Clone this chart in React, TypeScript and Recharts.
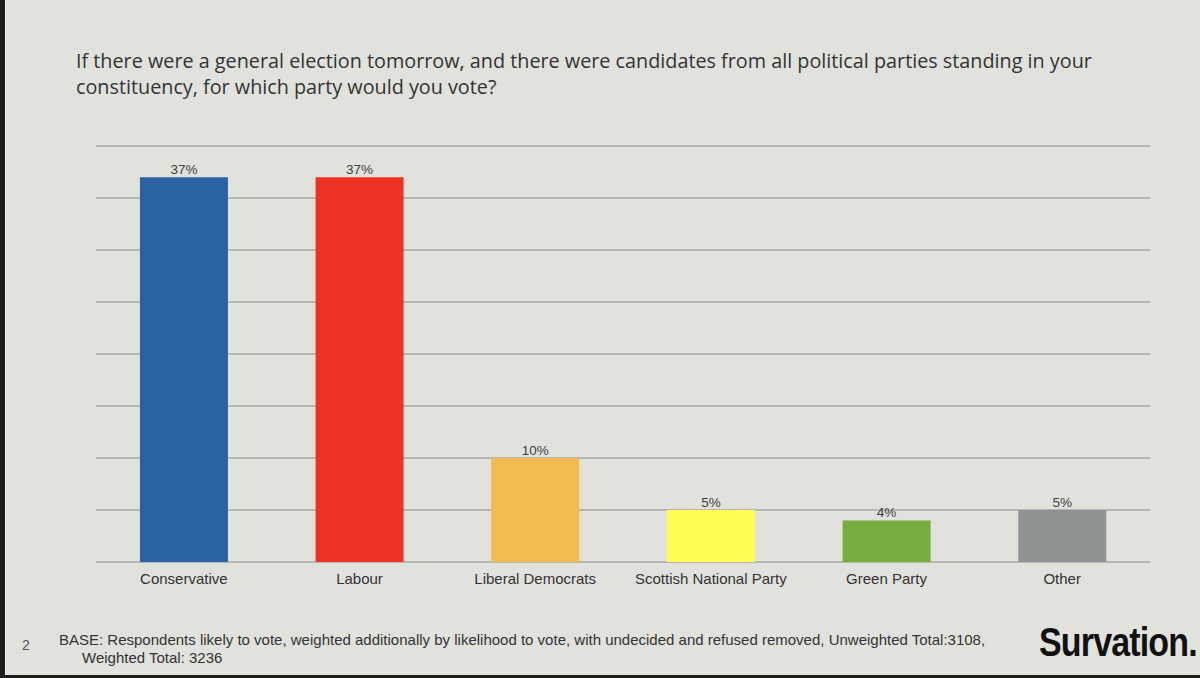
import React from "react";
import { BarChart, Bar, XAxis, YAxis, CartesianGrid, Cell, LabelList } from "recharts";

const parties = ["Conservative", "Labour", "Liberal Democrats", "Scottish National Party", "Green Party", "Other"];
const shares = [37, 37, 10, 5, 4, 5];
const colors = ["#2a63a0", "#ee3224", "#f2bc50", "#fefe55", "#78ac3e", "#8e9293"];
const yTicks = [0, 5, 10, 15, 20, 25, 30, 35, 40];

const data = parties.map((p, i) => ({ party: p, share: shares[i] }));

export default function App() {
  return (
    <div style={{ position: "relative", width: 1200, height: 678, background: "#e2e2dd", overflow: "hidden", fontFamily: "'Liberation Sans', Arial, sans-serif" }}>
      <style>{"body{margin:0}"}</style>
      <div style={{ position: "absolute", left: 0, top: 0, width: 5, height: 678, background: "#1c1c1c" }} />
      <div style={{ position: "absolute", left: 5, top: 0, width: 1, height: 678, background: "#f2f2ee" }} />
      <div style={{ position: "absolute", left: 0, top: 675, width: 1200, height: 3, background: "#1c1c1c" }} />
      <div style={{ position: "absolute", left: 76, top: 48, width: 1120, fontFamily: "'Open Sans', sans-serif", fontSize: 19.8, lineHeight: "26px", color: "#333", whiteSpace: "nowrap" }}>
        If there were a general election tomorrow, and there were candidates from all political parties standing in your<br />
        constituency, for which party would you vote?
      </div>
      <div style={{ position: "absolute", left: 0, top: 0 }}>
        <BarChart width={1200} height={678} data={data} margin={{ top: 146, left: 96, right: 50, bottom: 86 }} barCategoryGap="25%">
          <CartesianGrid horizontal vertical={false} stroke="#b6b6b2" strokeWidth={2} />
          <YAxis hide domain={[0, 40]} ticks={yTicks} width={0} />
          <XAxis dataKey="party" height={30} axisLine={false} tickLine={false} tickMargin={5} tick={{ fill: "#333", fontSize: 15 }} interval={0} />
          <Bar dataKey="share" isAnimationActive={false}>
            {data.map((d, i) => (
              <Cell key={d.party} fill={colors[i]} />
            ))}
            <LabelList dataKey="share" position="top" offset={3} formatter={(v: any) => `${v}%`} fill="#404040" fontSize={13.5} />
          </Bar>
        </BarChart>
      </div>
      <div style={{ position: "absolute", left: 22, top: 637, fontSize: 14, color: "#555" }}>2</div>
      <div style={{ position: "absolute", left: 59, top: 631, fontSize: 15, lineHeight: "18px", color: "#333", whiteSpace: "nowrap" }}>
        BASE: Respondents likely to vote, weighted additionally by likelihood to vote, with undecided and refused removed, Unweighted Total:3108,<br />
        <span style={{ paddingLeft: 23 }}>Weighted Total: 3236</span>
      </div>
      <div style={{ position: "absolute", left: 1039, top: 618, fontSize: 40, fontWeight: "bold", color: "#111", letterSpacing: -1, transform: "scaleX(0.85)", transformOrigin: "left top", whiteSpace: "nowrap", lineHeight: "48px" }}>
        Survation.
      </div>
    </div>
  );
}
